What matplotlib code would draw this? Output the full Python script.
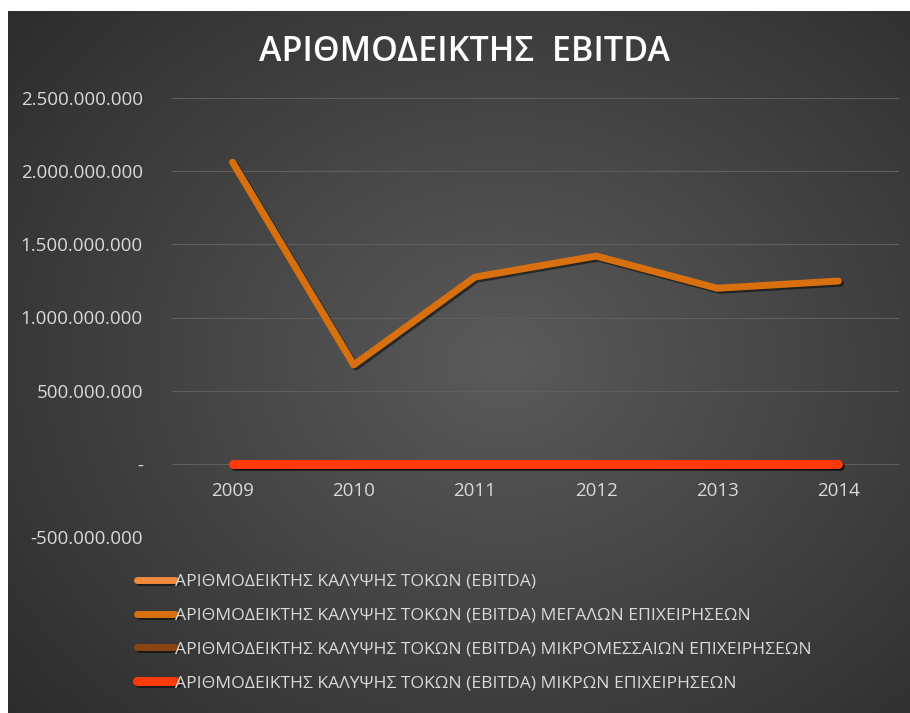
import matplotlib.pyplot as plt
import matplotlib.patheffects as pe
import numpy as np

# data
years = ['2009', '2010', '2011', '2012', '2013', '2014']
total = [3.1, 2.4, 2.9, 3.3, 3.0, 3.2]
large = [2061000000, 676000000, 1276000000, 1420000000, 1200000000, 1249000000]
medium = [2.2, 1.6, 1.9, 2.1, 1.8, 2.0]
small = [1.5, 1.1, 1.3, 1.4, 1.2, 1.3]
labels = ['ΑΡΙΘΜΟΔΕΙΚΤΗΣ ΚΑΛΥΨΗΣ ΤΟΚΩΝ (EBITDA)',
          'ΑΡΙΘΜΟΔΕΙΚΤΗΣ ΚΑΛΥΨΗΣ ΤΟΚΩΝ (EBITDA) ΜΕΓΑΛΩΝ ΕΠΙΧΕΙΡΗΣΕΩΝ',
          'ΑΡΙΘΜΟΔΕΙΚΤΗΣ ΚΑΛΥΨΗΣ ΤΟΚΩΝ (EBITDA) ΜΙΚΡΟΜΕΣΣΑΙΩΝ ΕΠΙΧΕΙΡΗΣΕΩΝ',
          'ΑΡΙΘΜΟΔΕΙΚΤΗΣ ΚΑΛΥΨΗΣ ΤΟΚΩΝ (EBITDA) ΜΙΚΡΩΝ ΕΠΙΧΕΙΡΗΣΕΩΝ']
colors = ['#F08A3C', '#D9700F', '#8A4510', '#FF3A0A']

plt.rcParams['font.family'] = ['Open Sans', 'DejaVu Sans']

fig = plt.figure(figsize=(9.1, 7.13), dpi=100)
fig.patch.set_facecolor('white')

# dark radial background
bg = fig.add_axes([8 / 910, 0, 1 - 8 / 910, 1 - 11 / 713])
yy, xx = np.mgrid[0:1:300j, 0:1:300j]
r = np.sqrt(((xx - 0.55) / 0.8) ** 2 + ((yy - 0.5) / 0.85) ** 2)
bg.imshow(np.clip(r, 0, 1), cmap=plt.matplotlib.colors.LinearSegmentedColormap.from_list(
    'bg', ['#5A5A5A', '#282828']), vmin=0, vmax=1, aspect='auto', extent=[0, 1, 0, 1])
bg.axis('off')

ax = fig.add_axes([172 / 910, 1 - 537 / 713, (899 - 172) / 910, (537 - 98) / 713])
ax.patch.set_alpha(0)
x = np.arange(len(years))
shadow = [pe.SimpleLineShadow(offset=(1.5, -1.5), shadow_color='black', alpha=0.5), pe.Normal()]
for vals, c, lab, lw in zip([total, large, medium, small], colors, labels, [5, 5, 5, 6.5]):
    ax.plot(x, vals, color=c, lw=lw, solid_capstyle='round', solid_joinstyle='round',
            label=lab, path_effects=shadow)

ax.set_xlim(-0.5, len(years) - 0.5)
ax.set_ylim(-500000000, 2500000000)
yt = np.arange(-500000000, 2500000001, 500000000)
ax.set_yticks(yt)
ax.set_yticklabels(['-' if v == 0 else f'{v:,.0f}'.replace(',', '.') for v in yt])
ax.set_xticks(x)
ax.set_xticklabels(years)
ax.spines['bottom'].set_position(('data', 0))
for s in ax.spines.values():
    s.set_visible(False)
ax.tick_params(axis='both', length=0, colors='#D9D9D9', labelsize=13.5)
ax.tick_params(axis='x', pad=13)
ax.tick_params(axis='y', pad=21)
ax.grid(axis='y', color='#5E5E5E', lw=0.8)
ax.set_axisbelow(True)

fig.text(465 / 910, 1 - 52 / 713, 'ΑΡΙΘΜΟΔΕΙΚΤΗΣ  EBITDA', ha='center', va='center',
         color='white', fontsize=24.5, fontweight='semibold')

leg = ax.legend(loc='upper left', bbox_to_anchor=(128 / 910, 1 - 565 / 713),
                bbox_transform=fig.transFigure, frameon=False, handlelength=2.2,
                handletextpad=0.0, labelspacing=1.0, fontsize=12.6, borderpad=0)
for t in leg.get_texts():
    t.set_color('#D9D9D9')

plt.savefig('out.png', dpi=100, facecolor=fig.get_facecolor())
